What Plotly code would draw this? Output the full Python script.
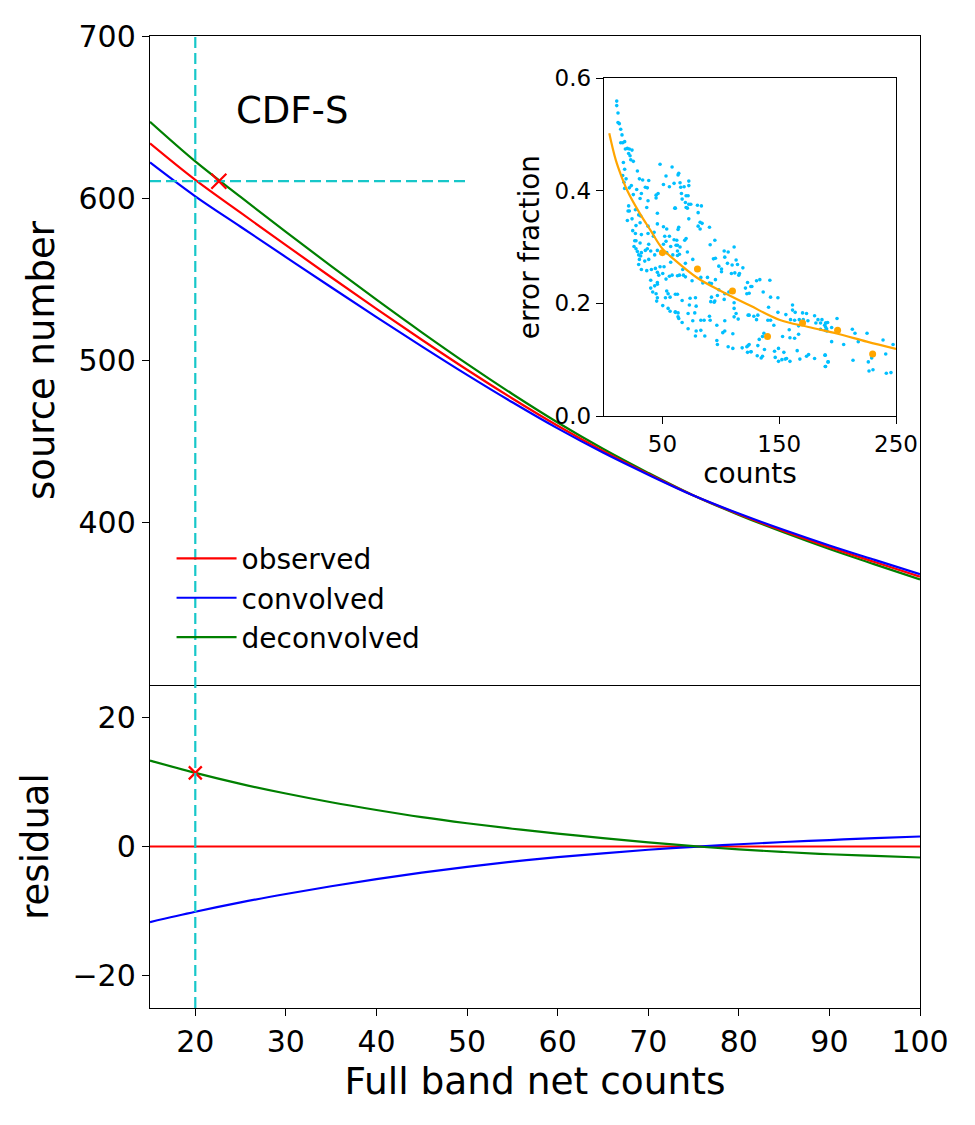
import plotly.graph_objects as go

# ---------------- data ----------------
counts = [15, 20, 25, 30, 35, 40, 45, 50, 55, 60, 65, 70, 75, 80, 85, 90, 95, 100]
observed = [633.8, 611.3, 591.1, 571.1, 551.3, 531.8, 512.8, 494.3, 476.6, 459.8,
            444.3, 430.1, 416.8, 405.3, 394.8, 385.0, 375.8, 366.8]
convolved = [622.1, 601.2, 582.45, 563.75, 545.15, 526.75, 508.75, 491.15, 474.25, 458.15,
             443.25, 429.6, 416.75, 405.65, 395.5, 386.0, 377.1, 368.35]
deconvolved = [647.1, 622.7, 600.8, 579.3, 558.15, 537.45, 517.35, 497.9, 479.35, 461.8,
               445.6, 430.75, 416.85, 404.85, 393.95, 383.8, 374.35, 365.1]
resid_observed = [0.0] * 18
resid_convolved = [-11.7, -10.1, -8.65, -7.35, -6.15, -5.05, -4.05, -3.15, -2.35, -1.65,
                   -1.05, -0.5, -0.05, 0.35, 0.7, 1.0, 1.3, 1.55]
resid_deconvolved = [13.3, 11.4, 9.7, 8.2, 6.85, 5.65, 4.55, 3.6, 2.75, 2.0,
                     1.3, 0.65, 0.05, -0.45, -0.85, -1.2, -1.45, -1.7]

threshold_counts = 20
threshold_number = 610.5
hline_x = [15, 50]
cross_main_x = [22.6]
cross_main_y = [610.5]
cross_resid_x = [20]
cross_resid_y = [11.4]

# inset: error fraction vs counts
src_counts = [
    10.9, 10.9, 12, 12, 13.1, 14.3, 15.4, 14.3, 16, 17.7, 18.3, 20, 21.7, 21.1, 22.3, 24, 22.9, 25.1, 16.6, 17.7,
    28.6, 16, 18.9, 17.1, 30.3, 33.1, 38.3, 23.4, 17.7, 21.7, 28, 35.4, 37.1, 32, 25.1, 30.9, 37.7, 44.6, 46.3, 44.6,
    48, 53.1, 50.9, 56, 58.3, 60, 63.4, 21.1, 20.6, 21.7, 36.6, 60.6, 26.9, 29.7, 31.4, 45.7, 24, 20, 30.9, 27.4,
    37.7, 45.7, 50.9, 53.7, 24.6, 26.9, 32, 37.7, 42.9, 42.3, 52, 56, 63.4, 26.3, 27.4, 30.9, 38.3, 25.7, 27.4, 28.6,
    32, 35.4, 37.1, 40, 43.4, 45.7, 50.9, 53.1, 57.1, 60, 62.9, 29.7, 31.4, 30.3, 34.9, 38.3, 53.7, 58.9, 62.9, 57.1,
    29.7, 32, 36.6, 40.6, 44, 48, 51.4, 45.7, 46.9, 50.3, 56, 58.3, 40, 45.7, 53.1, 62.9, 40, 43.4, 45.7, 53.7,
    41.7, 44.6, 54.9, 61.1, 45.7, 52.6, 56.6, 45.1, 50.3, 54.9, 56.6, 61.1, 63.4,
    64, 65.1, 65.7, 68.6, 72.6, 72.6, 66.3, 70.3, 72, 66.9, 69.7, 72.6, 74.3, 70.3, 71.4, 61.1, 80, 83.4, 80.6, 72.6,
    82.3, 84, 80.6, 82.3, 90.3, 64, 62.3, 70.3, 69.1, 61.7, 65.1, 62.9, 71.4, 64.6, 90.9, 94.9, 111.4, 102.9, 106.3, 103.4,
    113.1, 93.7, 95.4, 76, 69.7, 67.4, 64.6, 68, 69.7, 75.4, 82.9, 88.6, 84.6, 90.3, 92, 95.4, 98.3, 100.6, 100.6, 105.7,
    109.7, 114.3, 118.9, 116, 109.1, 112, 115.4, 122.9, 125.7, 121.1, 122.3, 98.3, 97.1, 103.4, 92, 94.3, 62.9, 66.9, 73.7, 78.3,
    73.1, 78.9, 91.4, 94.9, 102.9, 106.9, 111.4, 111.4, 113.1, 111.4, 114.9, 123.4, 61.1, 63.4, 64, 72, 77.7, 66.9, 76, 82.9,
    85.7, 90.9, 90.3, 103.4, 96.6, 72, 78.9, 82.9, 78.3, 86.3, 103.4, 110.3, 96.6, 97.1, 101.7, 106.3, 110.3, 118.3, 122.3, 123.4,
    122.9, 125.7,
    130.6, 133.4, 126.6, 142, 124.3, 136.3, 142.6, 148.9, 140.9, 131.7, 124.3, 128.3, 130.6, 148.9, 155.7, 161.4, 161.4, 159.7, 163.2, 163.7,
    170, 173.4, 180.3, 167.2, 170.6, 174.6, 183.2, 181.4, 186.6, 185.4, 188.9, 190, 140.3, 142.6, 145.4, 158.6, 166.6, 185.4, 189.4, 190.6,
    136.9, 132.9, 135.7, 152.9, 159.2, 163.2, 166.6, 124.3, 131.7, 137.4, 126, 131.2, 135.7, 134.6, 146, 149.4, 154, 146.6, 149.4, 152.3,
    155.2, 156.3, 159.2, 165.4, 167.7, 173.4, 175.2, 180.3, 189.4, 191.7, 189.4,
    189.7, 191.5, 189.7, 194.9, 199.5, 190.9, 194.9, 205.2, 212.6, 214.9, 217.7, 225.2, 238.9, 247.5, 241.2, 189.2, 192, 189.7, 213.2, 226.3,
    229.2, 226.9, 230.3, 241.7, 245.7,
]
src_error = [
    0.559, 0.551, 0.538, 0.521, 0.519, 0.509, 0.499, 0.485, 0.485, 0.487, 0.474, 0.475, 0.474, 0.466, 0.462, 0.472, 0.455, 0.452, 0.450, 0.438,
    0.435, 0.427, 0.421, 0.415, 0.421, 0.419, 0.418, 0.409, 0.404, 0.405, 0.402, 0.406, 0.405, 0.395, 0.393, 0.386, 0.382, 0.392, 0.395, 0.387,
    0.447, 0.426, 0.411, 0.407, 0.442, 0.413, 0.428, 0.373, 0.364, 0.364, 0.370, 0.369, 0.366, 0.357, 0.355, 0.360, 0.350, 0.347, 0.343, 0.338,
    0.337, 0.341, 0.336, 0.332, 0.329, 0.324, 0.322, 0.324, 0.326, 0.319, 0.319, 0.319, 0.331, 0.311, 0.311, 0.307, 0.305, 0.301, 0.297, 0.292,
    0.290, 0.294, 0.297, 0.293, 0.286, 0.294, 0.305, 0.310, 0.301, 0.313, 0.303, 0.286, 0.284, 0.278, 0.275, 0.278, 0.290, 0.286, 0.285, 0.273,
    0.269, 0.260, 0.258, 0.260, 0.262, 0.265, 0.265, 0.255, 0.250, 0.253, 0.248, 0.250, 0.241, 0.237, 0.243, 0.249, 0.227, 0.231, 0.234, 0.222,
    0.220, 0.217, 0.217, 0.216, 0.210, 0.210, 0.211, 0.204, 0.196, 0.191, 0.186, 0.184, 0.176,
    0.431, 0.414, 0.406, 0.407, 0.417, 0.409, 0.395, 0.391, 0.391, 0.385, 0.379, 0.376, 0.376, 0.370, 0.369, 0.369, 0.374, 0.373, 0.361, 0.350,
    0.344, 0.342, 0.337, 0.332, 0.335, 0.335, 0.312, 0.315, 0.312, 0.303, 0.300, 0.293, 0.291, 0.287, 0.304, 0.312, 0.300, 0.293, 0.291, 0.282,
    0.277, 0.279, 0.280, 0.278, 0.271, 0.260, 0.250, 0.250, 0.247, 0.240, 0.246, 0.246, 0.236, 0.236, 0.235, 0.242, 0.266, 0.261, 0.256, 0.271,
    0.268, 0.269, 0.263, 0.253, 0.253, 0.254, 0.250, 0.237, 0.230, 0.227, 0.217, 0.224, 0.214, 0.217, 0.211, 0.202, 0.216, 0.205, 0.209, 0.210,
    0.197, 0.195, 0.203, 0.204, 0.207, 0.220, 0.201, 0.191, 0.182, 0.176, 0.172, 0.179, 0.185, 0.183, 0.173, 0.182, 0.183, 0.166, 0.169, 0.170,
    0.170, 0.170, 0.177, 0.169, 0.161, 0.155, 0.151, 0.152, 0.142, 0.142, 0.151, 0.146, 0.134, 0.127, 0.148, 0.123, 0.120, 0.121, 0.123, 0.125,
    0.113, 0.114,
    0.240, 0.242, 0.230, 0.241, 0.218, 0.220, 0.211, 0.210, 0.193, 0.179, 0.179, 0.177, 0.171, 0.184, 0.180, 0.197, 0.188, 0.171, 0.170, 0.184,
    0.183, 0.182, 0.178, 0.171, 0.171, 0.169, 0.171, 0.165, 0.171, 0.165, 0.161, 0.165, 0.170, 0.170, 0.161, 0.153, 0.160, 0.154, 0.152, 0.155,
    0.147, 0.136, 0.141, 0.141, 0.139, 0.138, 0.145, 0.127, 0.125, 0.118, 0.114, 0.107, 0.106, 0.103, 0.115, 0.120, 0.113, 0.104, 0.097, 0.100,
    0.101, 0.102, 0.097, 0.116, 0.101, 0.106, 0.109, 0.102, 0.108, 0.096, 0.088,
    0.165, 0.166, 0.158, 0.157, 0.173, 0.151, 0.132, 0.127, 0.154, 0.147, 0.132, 0.147, 0.135, 0.127, 0.110, 0.108, 0.096, 0.088, 0.099, 0.096,
    0.103, 0.080, 0.082, 0.076, 0.077,
]
bin_counts = [50, 80, 110, 140, 170, 200, 230]
bin_error = [0.290, 0.261, 0.222, 0.141, 0.165, 0.152, 0.110]
fit_counts = [4.5, 10, 15, 20, 30, 40, 50, 60, 80, 100, 125, 150, 175, 200, 225, 250]
fit_error = [0.502, 0.455, 0.425, 0.400, 0.362, 0.329, 0.297, 0.278, 0.245, 0.222,
             0.196, 0.171, 0.158, 0.146, 0.132, 0.119]

# ---------------- figure ----------------
FONT = "DejaVu Sans"
CYAN = "#17c7c9"
LW = 2.2
fig = go.Figure()

# main panel
fig.add_trace(go.Scatter(x=counts, y=deconvolved, mode="lines", name="deconvolved",
                         line=dict(color="#008000", width=LW, shape="spline"), legendrank=3,
                         xaxis="x", yaxis="y"))
fig.add_trace(go.Scatter(x=counts, y=observed, mode="lines", name="observed",
                         line=dict(color="#ff0000", width=LW, shape="spline"), legendrank=1,
                         xaxis="x", yaxis="y"))
fig.add_trace(go.Scatter(x=counts, y=convolved, mode="lines", name="convolved",
                         line=dict(color="#0000ff", width=LW, shape="spline"), legendrank=2,
                         xaxis="x", yaxis="y"))
fig.add_trace(go.Scatter(x=hline_x, y=[threshold_number] * len(hline_x), mode="lines",
                         line=dict(color=CYAN, width=LW, dash="11px,5px"), showlegend=False,
                         xaxis="x", yaxis="y"))
fig.add_trace(go.Scatter(x=cross_main_x, y=cross_main_y, mode="markers",
                         marker=dict(symbol="x-thin", size=15, line=dict(color="red", width=LW)),
                         showlegend=False, xaxis="x", yaxis="y"))

# residual panel
fig.add_trace(go.Scatter(x=counts, y=resid_observed, mode="lines", line=dict(color="#ff0000", width=LW),
                         showlegend=False, xaxis="x2", yaxis="y2"))
fig.add_trace(go.Scatter(x=counts, y=resid_convolved, mode="lines",
                         line=dict(color="#0000ff", width=LW, shape="spline"),
                         showlegend=False, xaxis="x2", yaxis="y2"))
fig.add_trace(go.Scatter(x=counts, y=resid_deconvolved, mode="lines",
                         line=dict(color="#008000", width=LW, shape="spline"),
                         showlegend=False, xaxis="x2", yaxis="y2"))
fig.add_trace(go.Scatter(x=cross_resid_x, y=cross_resid_y, mode="markers",
                         marker=dict(symbol="x-thin", size=13, line=dict(color="red", width=LW)),
                         showlegend=False, xaxis="x2", yaxis="y2"))

# inset
fig.add_trace(go.Scatter(x=src_counts, y=src_error, mode="markers",
                         marker=dict(color="#00bfff", size=3.6), showlegend=False,
                         xaxis="x3", yaxis="y3"))
fig.add_trace(go.Scatter(x=fit_counts, y=fit_error, mode="lines",
                         line=dict(color="orange", width=LW, shape="spline"), showlegend=False,
                         xaxis="x3", yaxis="y3"))
fig.add_trace(go.Scatter(x=bin_counts, y=bin_error, mode="markers",
                         marker=dict(color="orange", size=7), showlegend=False,
                         xaxis="x3", yaxis="y3"))

# vertical threshold line through both panels
fig.add_shape(type="line", xref="x", yref="paper", x0=threshold_counts, x1=threshold_counts,
              y0=0, y1=1, line=dict(color=CYAN, width=LW, dash="11px,5px"))

split = 323 / 972
axis_common = dict(showline=True, linecolor="black", linewidth=1.4, mirror=True,
                   ticks="outside", ticklen=7, tickwidth=1.4, tickcolor="black",
                   showgrid=False, zeroline=False)

fig.update_layout(
    width=975, height=1125,
    margin=dict(l=150, r=55, t=36, b=117),
    plot_bgcolor="white", paper_bgcolor="white",
    font=dict(family=FONT, color="black", size=30),
    xaxis=dict(domain=[0, 1], anchor="y", range=[15, 100], showticklabels=False,
               showline=True, linecolor="black", linewidth=1.4, mirror=True,
               ticks="", showgrid=False, zeroline=False, matches="x2"),
    yaxis=dict(domain=[split, 1], anchor="x", range=[300, 700],
               tickvals=[400, 500, 600, 700], tickfont=dict(size=30),
               title=dict(text="source number", font=dict(size=37), standoff=12),
               **axis_common),
    xaxis2=dict(domain=[0, 1], anchor="y2", range=[15, 100],
                tickvals=[20, 30, 40, 50, 60, 70, 80, 90, 100], tickfont=dict(size=30),
                title=dict(text="Full band net counts", font=dict(size=37.5), standoff=8),
                showline=True, linecolor="black", linewidth=1.4, mirror=False,
                ticks="outside", ticklen=7, tickwidth=1.4, tickcolor="black",
                showgrid=False, zeroline=False),
    yaxis2=dict(domain=[0, split], anchor="x2", range=[-25, 25],
                tickvals=[-20, 0, 20], ticktext=["\u221220", "0", "20"], tickfont=dict(size=30),
                title=dict(text="residual", font=dict(size=37), standoff=12),
                **axis_common),
    xaxis3=dict(domain=[(604 - 150) / 770, (896 - 150) / 770], anchor="y3", range=[0, 250],
                tickvals=[50, 150, 250], tickfont=dict(size=23),
                title=dict(text="counts", font=dict(size=28), standoff=4),
                **axis_common),
    yaxis3=dict(domain=[(1008 - 416) / 972, (1008 - 78) / 972], anchor="x3", range=[0, 0.6],
                tickvals=[0, 0.2, 0.4, 0.6], ticktext=["0.0", "0.2", "0.4", "0.6"],
                tickfont=dict(size=23),
                title=dict(text="error fraction", font=dict(size=28), standoff=6),
                **axis_common),
    legend=dict(x=0.028, y=0.488, xanchor="left", yanchor="top",
                font=dict(size=28), bgcolor="rgba(0,0,0,0)", borderwidth=0,
                itemwidth=60, tracegroupgap=0),
    annotations=[dict(text="CDF-S", x=24.3, y=654, xref="x", yref="y",
                      xanchor="left", yanchor="middle", showarrow=False,
                      font=dict(size=37, family=FONT))],
)

fig.write_html("out.html")
